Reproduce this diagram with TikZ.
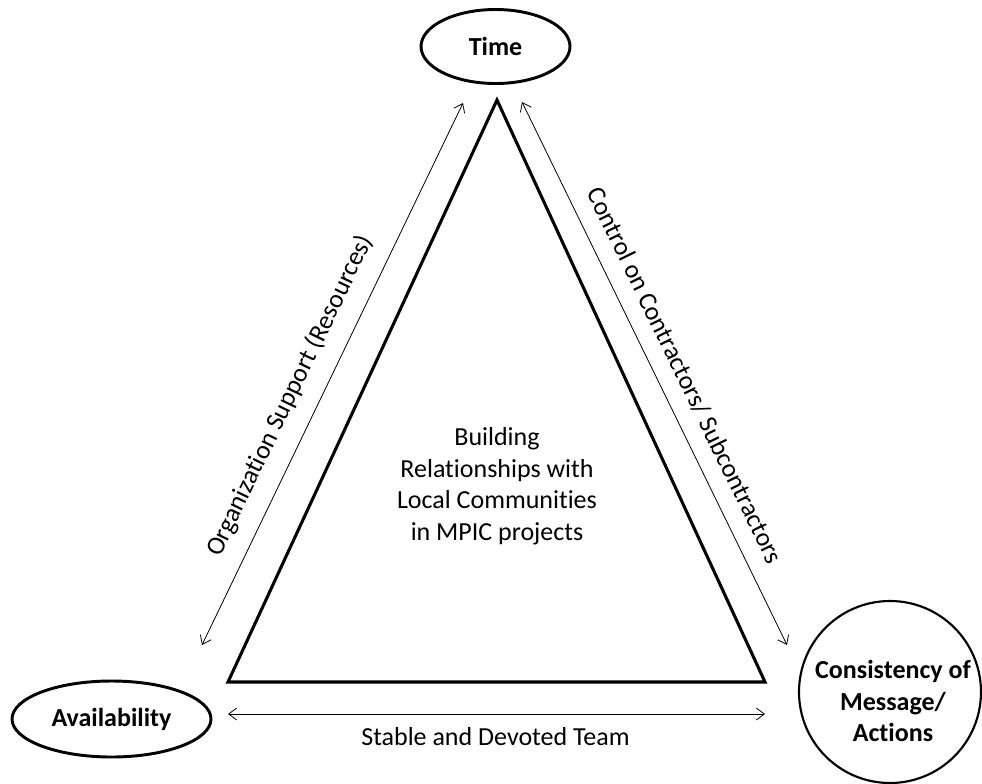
\documentclass[tikz,border=0pt]{standalone}
\usepackage{fontspec}
\setmainfont{Carlito}[Ligatures=NoCommon]
\usetikzlibrary{shapes.geometric,arrows.meta}
\begin{document}
\begin{tikzpicture}[x=0.75pt,y=-0.75pt,
  txt/.style={font=\fontsize{19.5}{23.6}\selectfont, inner sep=0pt},
  bold/.style={font=\fontsize{19.5}{23.6}\selectfont\bfseries, inner sep=0pt, align=center},
  oval/.style={ellipse, draw, line width=2.2pt, inner sep=0pt},
  ring/.style={circle, draw, line width=1.6pt, inner sep=0pt, minimum size=136.5pt},
  tri/.style={line width=2.3pt, line join=miter},
  link/.style={line width=0.6pt, {Straight Barb[length=6pt,width=9pt]}-{Straight Barb[length=6pt,width=9pt]}},
]
\useasboundingbox (0,0) rectangle (982,783);

\node[oval, bold, minimum width=111.75pt, minimum height=55.5pt] (time) at (495.5,46.5) {Time};
\node[oval, bold, minimum width=149.25pt, minimum height=57pt] (avail) at (111.5,719) {Availability};
\node[ring] (cons) at (890,692) {};
\node[bold] (consT) at (893,701) {Consistency of\\Message/\\Actions};

\coordinate (A) at (497,100);
\coordinate (B) at (228,682);
\coordinate (C) at (765,682);
\draw[tri] (A) -- (B) -- (C) -- cycle;
\node[txt, align=center] (core) at (497,486) {Building\\Relationships with\\Local Communities\\in MPIC projects};

\coordinate (l1) at (202,645);
\coordinate (l2) at (463,103);
\draw[link] (l1) -- node[txt, sloped, pos=0.437, above=12.5pt] (orgLbl) {Organization Support (Resources)} (l2);

\coordinate (r1) at (522,102);
\coordinate (r2) at (787,645);
\draw[link] (r1) -- node[txt, sloped, pos=0.525, above=12.5pt] (ctrlLbl) {Control on Contractors/ Subcontractors} (r2);

\coordinate (b1) at (228,714);
\coordinate (b2) at (765,714);
\draw[link] (b1) -- (b2);
\node[txt, anchor=base] (team) at (495.5,745) {Stable and Devoted Team};
\end{tikzpicture}
\end{document}
